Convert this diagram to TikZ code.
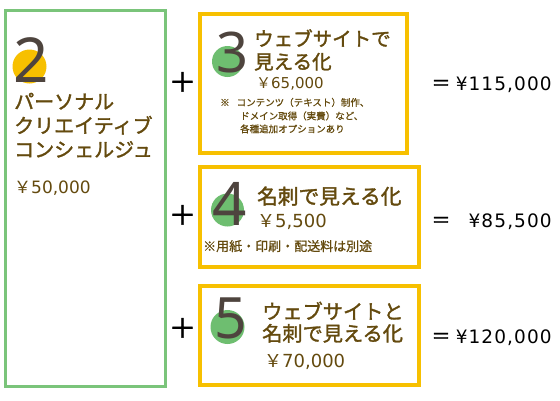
\documentclass[tikz,border=0pt]{standalone}
\usepackage{fontspec}
\newfontfamily\jp{Noto Sans CJK JP}
\newfontfamily\jpb[FakeBold=1.6]{Noto Sans CJK JP}
\newfontfamily\jps[FakeBold=0.8]{Noto Sans CJK JP}
\newfontfamily\lat{DejaVu Sans}
\newfontfamily\latw[LetterSpace=6]{DejaVu Sans}
\newfontfamily\dig{Noto Sans}
\definecolor{gbox}{RGB}{122,196,122}
\definecolor{gcirc}{RGB}{110,190,112}
\definecolor{ybox}{RGB}{247,192,0}
\definecolor{txt}{RGB}{100,74,14}
\definecolor{digc}{RGB}{78,68,62}
\tikzset{
  lbl/.style={inner sep=0pt, anchor=base west, text=txt},
  bignum/.style={inner sep=0pt, anchor=base, text=digc, text depth=0pt},
  plusmark/.style={inner sep=0pt, font=\jpb\fontsize{27}{27}\selectfont},
  total/.style={inner sep=0pt, anchor=base east, font=\latw\fontsize{18.5}{18.5}\selectfont},
  eqmark/.style={inner sep=0pt, anchor=base, font=\jpb\fontsize{19}{19}\selectfont}
}
\begin{document}
\begin{tikzpicture}[x=1pt,y=-1pt]
\useasboundingbox (0,0) rectangle (560,400);
\fill[white] (0,0) rectangle (560,400);
% boxes
\draw[gbox, line width=3pt] (5.5,10.5) rectangle (165.5,386.5);
\draw[ybox, line width=4pt] (200,14) rectangle (407,153);
\draw[ybox, line width=4pt] (200,167) rectangle (419,267);
\draw[ybox, line width=4pt] (200,286) rectangle (419,385);
% box 2
\fill[ybox] (29.5,66.5) circle (17);
\node[bignum, font=\dig\fontsize{62}{62}\selectfont] (n2) at (31,82) {2};
\node[lbl, font=\jpb\fontsize{20}{20}\selectfont] (t2a) at (14,109) {パーソナル};
\node[lbl, font=\jpb\fontsize{20}{20}\selectfont] (t2b) at (14,133) {クリエイティブ};
\node[lbl, font=\jpb\fontsize{20}{20}\selectfont] (t2c) at (14,157) {コンシェルジュ};
\node[lbl, font=\lat\fontsize{17}{17}\selectfont] (p2) at (14,193) {{\jp ￥}50,000};
% box 3
\fill[gcirc] (227.5,61.5) circle (15.5);
\node[bignum, font=\dig\fontsize{56}{56}\selectfont] (n3) at (232.5,72) {3};
\node[lbl, font=\jpb\fontsize{19.5}{19.5}\selectfont] (t3a) at (254,46) {ウェブサイトで};
\node[lbl, font=\jpb\fontsize{19.5}{19.5}\selectfont] (t3b) at (254,69) {見える化};
\node[lbl, font=\lat\fontsize{15}{15}\selectfont] (p3) at (256,88) {{\jp ￥}65,000};
\node[lbl, font=\jps\fontsize{9.5}{9.5}\selectfont] (s3a) at (220,106) {※\hspace{7pt}コンテンツ（テキスト）制作、};
\node[lbl, font=\jps\fontsize{9.5}{9.5}\selectfont] (s3b) at (240,119.5) {ドメイン取得（実費）など、};
\node[lbl, font=\jps\fontsize{9.5}{9.5}\selectfont] (s3c) at (240,132.5) {各種追加オプションあり};
% box 4
\fill[gcirc] (227.5,210) circle (16.5);
\node[bignum, font=\dig\fontsize{60}{60}\selectfont] (n4) at (230,225) {4};
\node[lbl, font=\jpb\fontsize{20.7}{20.7}\selectfont] (t4) at (257,204) {名刺で見える化};
\node[lbl, font=\lat\fontsize{18}{18}\selectfont] (p4) at (257,227) {{\jp ￥}5,500};
\node[lbl, font=\jps\fontsize{13}{13}\selectfont] (s4) at (203,251) {※用紙・印刷・配送料は別途};
% box 5
\fill[gcirc] (227.5,327) circle (17);
\node[bignum, font=\dig\fontsize{57}{57}\selectfont] (n5) at (231,338) {5};
\node[lbl, font=\jpb\fontsize{20.2}{20.2}\selectfont] (t5a) at (262,319) {ウェブサイトと};
\node[lbl, font=\jpb\fontsize{20.2}{20.2}\selectfont] (t5b) at (262,341) {名刺で見える化};
\node[lbl, font=\lat\fontsize{18}{18}\selectfont] (p5) at (264,367) {{\jp ￥}70,000};
% plus signs
\node[plusmark] (pl1) at (182.5,82) {＋};
\node[plusmark] (pl2) at (182.5,215) {＋};
\node[plusmark] (pl3) at (182.5,328) {＋};
% totals
\node[eqmark] (e1) at (441,90) {＝};
\node[total] (r1) at (552,90) {¥115,000};
\node[eqmark] (e2) at (441,227) {＝};
\node[total] (r2) at (552,227) {¥85,500};
\node[eqmark] (e3) at (441,343) {＝};
\node[total] (r3) at (552,343) {¥120,000};
\end{tikzpicture}
\end{document}
